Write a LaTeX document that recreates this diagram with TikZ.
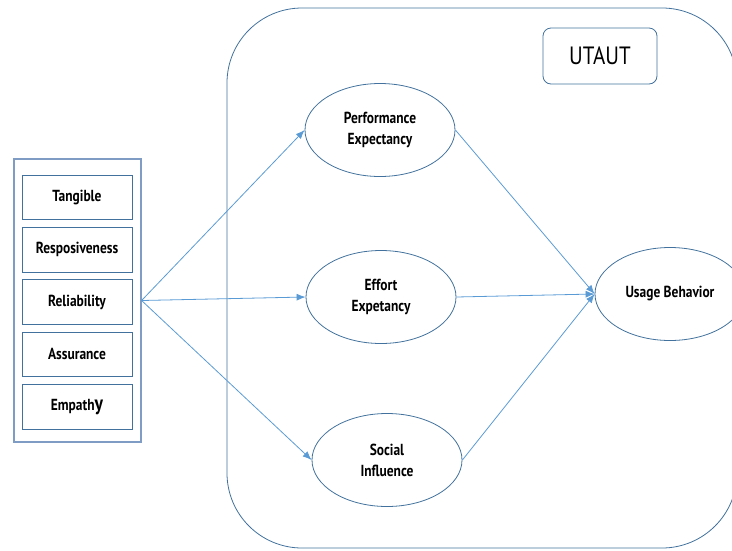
\documentclass[tikz,border=0pt]{standalone}
\usepackage{fontspec}
\setmainfont{PT Sans}[FakeStretch=0.84]
\usetikzlibrary{shapes,arrows.meta,positioning}
\definecolor{edgeblue}{HTML}{41719C}
\definecolor{arrowblue}{HTML}{5B9BD5}
\definecolor{paleblue}{HTML}{7F9CC4}

\begin{document}
\begin{tikzpicture}[x=1pt,y=-1pt,inner sep=0pt,
  dim/.style={draw=edgeblue, line width=0.8pt, minimum width=110pt, minimum height=44.5pt, font=\bfseries\fontsize{16}{18}\selectfont},
  construct/.style={ellipse, draw=edgeblue, line width=0.8pt, minimum width=150pt, minimum height=93pt, align=center, font=\bfseries\fontsize{16}{21}\selectfont},
  link/.style={-{Latex[length=9pt,width=7pt]}, draw=arrowblue, line width=0.8pt}]
\useasboundingbox (0,0) rectangle (732,550);

% UTAUT frame
\draw [edgeblue, line width=0.8pt, rounded corners=75pt] (227,8) rectangle (737,548);
\node (utaut) at (600,56) [draw=edgeblue, line width=0.8pt, rounded corners=8pt, minimum width=114pt, minimum height=56pt, font=\fontsize{25}{25}\selectfont] {UTAUT};

% service quality
\node (qual) at (77.5,300.5) [draw=paleblue, line width=1.2pt, minimum width=127pt, minimum height=283pt] {};
\node (tangible) at (77,197.5) [dim] {Tangible};
\node (respons) [dim, below=7pt of tangible] {Resposiveness};
\node (reliab) [dim, below=7pt of respons] {Reliability};
\node (assur) [dim, below=7pt of reliab] {Assurance};
\node (empathy) [dim, below=7pt of assur] {Empath{\fontsize{21}{21}\selectfont y}};

% constructs
\node (perf) at (380,130) [construct] {Performance\\Expectancy};
\node (effort) at (381,297) [construct] {Effort\\Expetancy};
\node (social) at (387,460) [construct] {Social\\Influence};
\node (usage) at (670,294) [construct] {Usage Behavior};

\draw [link] (qual.east) -- (perf.west);
\draw [link] (qual.east) -- (effort.west);
\draw [link] (qual.east) -- (social.west);
\draw [link] (perf.east) -- (usage.west);
\draw [link] (effort.east) -- (usage.west);
\draw [link] (social.east) -- (usage.west);

\end{tikzpicture}
\end{document}
